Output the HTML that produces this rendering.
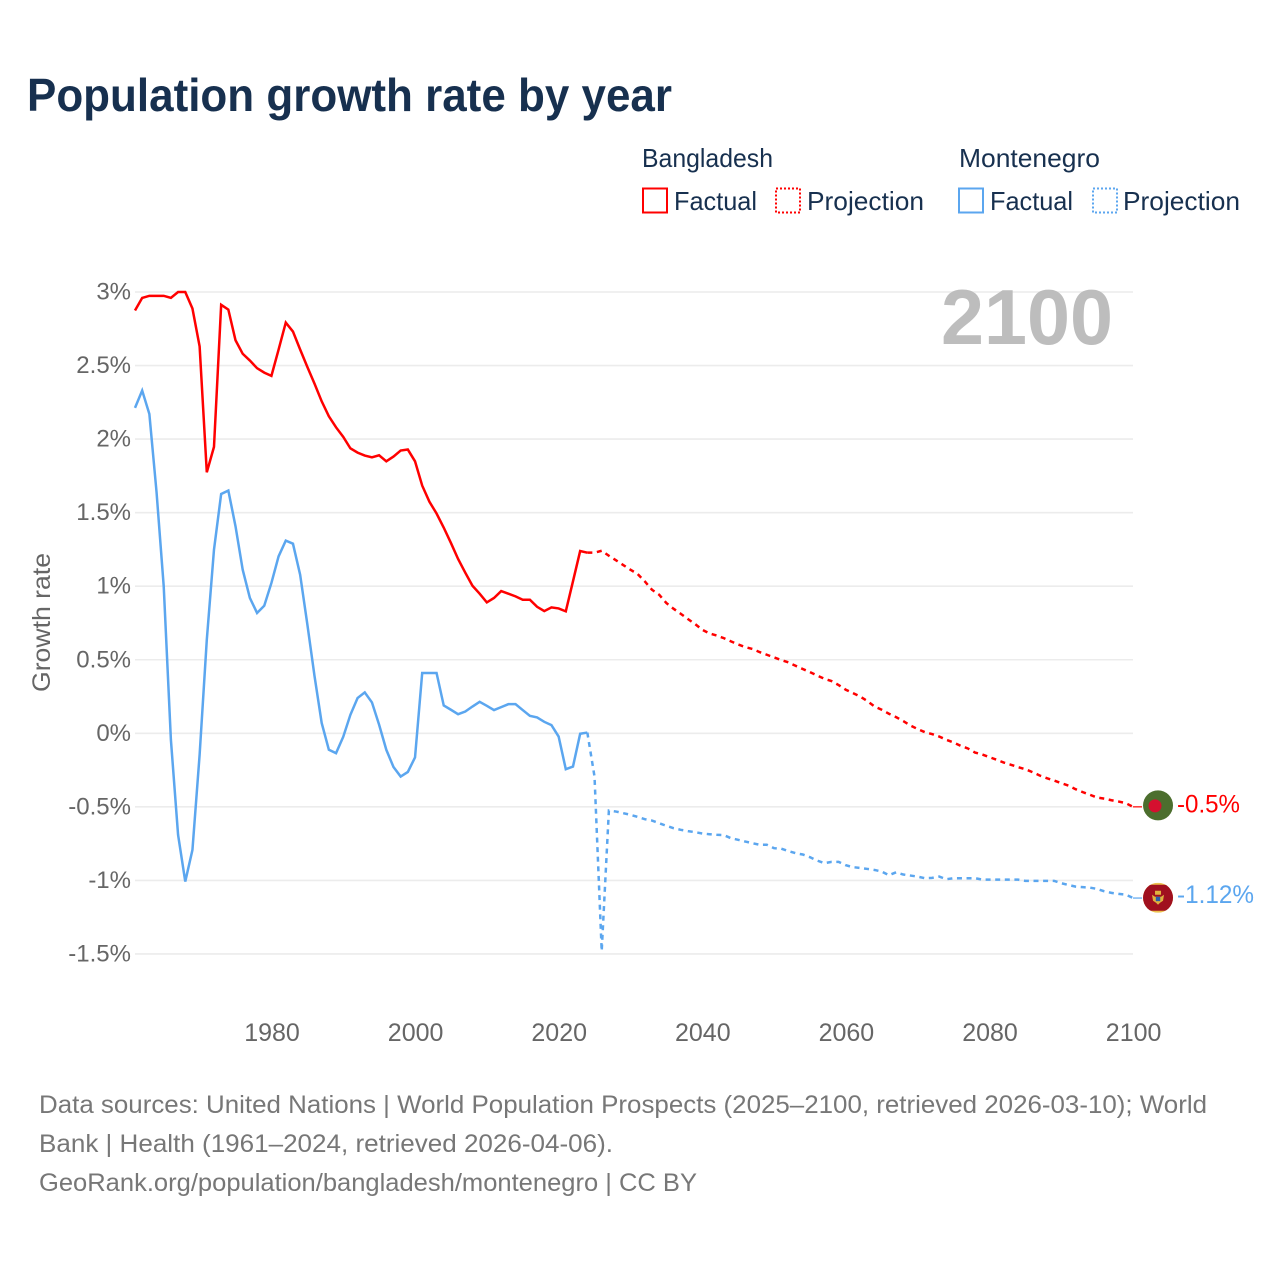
<!DOCTYPE html>
<html lang="en">
<head>
<meta charset="utf-8">
<title>Population growth rate by year</title>
<style>
  html, body { margin: 0; padding: 0; background: #ffffff; }
  svg { display: block; font-family: "Liberation Sans", sans-serif; }
</style>
</head>
<body>
<svg id="chart" width="1280" height="1280" viewBox="0 0 1280 1280" xmlns="http://www.w3.org/2000/svg">
  <rect x="0" y="0" width="1280" height="1280" fill="#ffffff"/>
  <text x="27" y="111" font-size="46" font-weight="700" fill="#17304f" textLength="645" lengthAdjust="spacingAndGlyphs">Population growth rate by year</text>

  <g font-size="26" fill="#17304f">
    <text x="642" y="167" textLength="131" lengthAdjust="spacingAndGlyphs">Bangladesh</text>
    <rect x="643" y="188.5" width="24" height="24" fill="none" stroke="#ff0000" stroke-width="2"/>
    <text x="674" y="210" textLength="83" lengthAdjust="spacingAndGlyphs">Factual</text>
    <rect x="776" y="188.5" width="24" height="24" fill="none" stroke="#ff0000" stroke-width="2" stroke-dasharray="2 2"/>
    <text x="807" y="210" textLength="117" lengthAdjust="spacingAndGlyphs">Projection</text>
    <text x="959" y="167" textLength="141" lengthAdjust="spacingAndGlyphs">Montenegro</text>
    <rect x="959" y="188.5" width="24" height="24" fill="none" stroke="#5ba6ef" stroke-width="2"/>
    <text x="990" y="210" textLength="83" lengthAdjust="spacingAndGlyphs">Factual</text>
    <rect x="1093" y="188.5" width="24" height="24" fill="none" stroke="#5ba6ef" stroke-width="2" stroke-dasharray="2 2"/>
    <text x="1123" y="210" textLength="117" lengthAdjust="spacingAndGlyphs">Projection</text>
  </g>

  <g id="grid"></g>
  <g id="y-ticks"></g>
  <g id="x-ticks"></g>

  <text transform="translate(50,622.5) rotate(-90)" text-anchor="middle" font-size="25" fill="#666666" textLength="139" lengthAdjust="spacingAndGlyphs">Growth rate</text>
  <text x="941" y="344" font-size="78" font-weight="700" fill="#bdbdbd" textLength="172" lengthAdjust="spacingAndGlyphs">2100</text>

  <g id="series"></g>
  <g id="end-markers"></g>

  <g font-size="25" fill="#777777">
    <text x="39" y="1113" textLength="1168" lengthAdjust="spacingAndGlyphs">Data sources: United Nations | World Population Prospects (2025–2100, retrieved 2026-03-10); World</text>
    <text x="39" y="1152" textLength="574" lengthAdjust="spacingAndGlyphs">Bank | Health (1961–2024, retrieved 2026-04-06).</text>
    <a><text x="39" y="1191" textLength="658" lengthAdjust="spacingAndGlyphs">GeoRank.org/population/bangladesh/montenegro | CC BY</text></a>
  </g>
</svg>

<script>
const xTickYears = [1980, 2000, 2020, 2040, 2060, 2080, 2100];
const yTickValues = [3, 2.5, 2, 1.5, 1, 0.5, 0, -0.5, -1, -1.5];
const yTickLabels = ['3%', '2.5%', '2%', '1.5%', '1%', '0.5%', '0%', '-0.5%', '-1%', '-1.5%'];

const factualStartYear = 1961;
const projectionStartYear = 2024;

const bangladeshFactual = [
  2.874, 2.96, 2.974, 2.974, 2.974, 2.96, 3.0, 3.0, 2.888, 2.63,
  1.774, 1.947, 2.913, 2.88, 2.672, 2.58, 2.534, 2.482, 2.452, 2.43,
  2.609, 2.792, 2.731, 2.609, 2.491, 2.377, 2.257, 2.155, 2.08, 2.015,
  1.937, 1.908, 1.888, 1.876, 1.89, 1.849, 1.881, 1.922, 1.929, 1.849,
  1.684, 1.575, 1.494, 1.398, 1.294, 1.185, 1.092, 1.003, 0.949, 0.89,
  0.92, 0.967, 0.949, 0.931, 0.908, 0.908, 0.86, 0.831, 0.856, 0.849,
  0.829, 1.033, 1.239, 1.228
];
const bangladeshProjection = [
  1.228, 1.228, 1.241, 1.207, 1.176, 1.144, 1.112, 1.083, 1.033, 0.976,
  0.942, 0.886, 0.847, 0.813, 0.777, 0.743, 0.704, 0.679, 0.665, 0.647,
  0.625, 0.604, 0.586, 0.573, 0.552, 0.534, 0.516, 0.498, 0.482, 0.459,
  0.437, 0.416, 0.393, 0.371, 0.355, 0.328, 0.296, 0.273, 0.25, 0.219,
  0.182, 0.16, 0.133, 0.11, 0.083, 0.053, 0.029, 0.008, -0.005, -0.022,
  -0.044, -0.062, -0.085, -0.103, -0.131, -0.144, -0.162, -0.18, -0.199, -0.214,
  -0.23, -0.244, -0.264, -0.287, -0.305, -0.321, -0.339, -0.355, -0.38, -0.4,
  -0.418, -0.437, -0.444, -0.455, -0.464, -0.475, -0.5
];
const montenegroFactual = [
  2.212, 2.33, 2.171, 1.64, 0.999, -0.044, -0.69, -1.008, -0.793, -0.146,
  0.636, 1.248, 1.627, 1.65, 1.407, 1.112, 0.92, 0.818, 0.867, 1.022,
  1.203, 1.31, 1.289, 1.078, 0.742, 0.39, 0.07, -0.112, -0.135, -0.024,
  0.126, 0.24, 0.278, 0.21, 0.058, -0.112, -0.229, -0.294, -0.263, -0.164,
  0.41, 0.41, 0.41, 0.189, 0.16, 0.13, 0.148, 0.182, 0.214, 0.187,
  0.158, 0.178, 0.198, 0.198, 0.158, 0.119, 0.108, 0.078, 0.056, -0.022,
  -0.244, -0.226, -0.003, 0.005
];
const montenegroProjection = [
  0.005, -0.294, -1.48, -0.525, -0.532, -0.543, -0.554, -0.568, -0.584, -0.593,
  -0.611, -0.629, -0.645, -0.656, -0.665, -0.672, -0.681, -0.686, -0.69, -0.692,
  -0.713, -0.724, -0.736, -0.747, -0.758, -0.758, -0.781, -0.784, -0.801, -0.815,
  -0.824, -0.842, -0.865, -0.883, -0.874, -0.874, -0.897, -0.91, -0.915, -0.922,
  -0.929, -0.94, -0.965, -0.945, -0.96, -0.967, -0.974, -0.985, -0.983, -0.974,
  -0.992, -0.985, -0.985, -0.985, -0.985, -0.995, -0.995, -0.995, -0.995, -0.995,
  -0.995, -1.003, -1.003, -1.003, -1.003, -1.003, -1.019, -1.031, -1.042, -1.046,
  -1.049, -1.058, -1.074, -1.085, -1.092, -1.097, -1.12
];
const endLabelBangladesh = '-0.5%';
const endLabelMontenegro = '-1.12%';

const NS = 'http://www.w3.org/2000/svg';
const RED = '#ff0000';
const BLUE = '#5ba6ef';

function xScale(year) { return 135 + (year - 1961) * 7.18; }
function yScale(value) { return 733.3 - value * 147.1; }

function svgEl(tag, attrs) {
  const el = document.createElementNS(NS, tag);
  for (const key in attrs) el.setAttribute(key, attrs[key]);
  return el;
}
function linePath(values, startYear) {
  return values.map(function (v, i) {
    return (i ? 'L' : 'M') + xScale(startYear + i).toFixed(2) + ' ' + yScale(v).toFixed(2);
  }).join(' ');
}

const gridGroup = document.getElementById('grid');
const yTickGroup = document.getElementById('y-ticks');
yTickValues.forEach(function (v, i) {
  const line = svgEl('line', { x1: xScale(1961), x2: xScale(2100), y1: yScale(v), y2: yScale(v), stroke: '#ececec', 'stroke-width': 1.6 });
  
  
  gridGroup.appendChild(line);
  const label = svgEl('text', { x: 131, y: yScale(v) + 7.5, 'text-anchor': 'end', 'font-size': 24, fill: '#666666' });
  
  
  label.textContent = yTickLabels[i];
  yTickGroup.appendChild(label);
});

const xTickGroup = document.getElementById('x-ticks');
xTickYears.forEach(function (year) {
  const label = svgEl('text', { x: xScale(year) + 0.6, y: 1041, 'text-anchor': 'middle', 'font-size': 25, fill: '#666666' });
  
  
  label.textContent = year;
  xTickGroup.appendChild(label);
});

const seriesGroup = document.getElementById('series');

const bdFactualLine = svgEl('path', { d: linePath(bangladeshFactual, factualStartYear), fill: 'none', stroke: RED, 'stroke-width': 2.5, 'stroke-linejoin': 'miter' });


seriesGroup.appendChild(bdFactualLine);

const bdProjectionLine = svgEl('path', { d: linePath(bangladeshProjection, projectionStartYear), fill: 'none', stroke: RED, 'stroke-width': 2.5, 'stroke-dasharray': '5 4.6' });


seriesGroup.appendChild(bdProjectionLine);

const meFactualLine = svgEl('path', { d: linePath(montenegroFactual, factualStartYear), fill: 'none', stroke: BLUE, 'stroke-width': 2.5, 'stroke-linejoin': 'miter' });


seriesGroup.appendChild(meFactualLine);

const meProjectionLine = svgEl('path', { d: linePath(montenegroProjection, projectionStartYear), fill: 'none', stroke: BLUE, 'stroke-width': 2.5, 'stroke-dasharray': '5 4.6' });


seriesGroup.appendChild(meProjectionLine);

const markerGroup = document.getElementById('end-markers');
const endX = xScale(2100);
const bdEndY = yScale(bangladeshProjection[bangladeshProjection.length - 1]);
const meEndY = yScale(montenegroProjection[montenegroProjection.length - 1]);

const bdConnector = svgEl('line', { x1: endX, x2: endX + 9, y1: bdEndY, y2: bdEndY, stroke: RED, 'stroke-width': 1.2 });


markerGroup.appendChild(bdConnector);

const meConnector = svgEl('line', { x1: endX, x2: endX + 9, y1: meEndY, y2: meEndY, stroke: BLUE, 'stroke-width': 1.2 });


markerGroup.appendChild(meConnector);

/* Bangladesh flag marker */
const bdFlag = svgEl('g', { transform: 'translate(' + (endX + 25) + ',' + (bdEndY - 1.5) + ')' });


bdFlag.appendChild(svgEl('circle', { r: 15, fill: '#4c6e2e' }));
bdFlag.appendChild(svgEl('circle', { cx: -3, cy: 0.5, r: 6.5, fill: '#d5102f' }));
markerGroup.appendChild(bdFlag);

/* Montenegro flag marker */
const meFlag = svgEl('g', { transform: 'translate(' + (endX + 25) + ',' + (meEndY - 0.3) + ')' });


const clip = svgEl('clipPath', { id: 'me-clip' });
clip.appendChild(svgEl('circle', { r: 15 }));
meFlag.appendChild(clip);
const meClipped = svgEl('g', { 'clip-path': 'url(#me-clip)' });
meClipped.appendChild(svgEl('rect', { x: -15, y: -15, width: 30, height: 30, fill: '#edc24f' }));
meClipped.appendChild(svgEl('rect', { x: -16, y: -13, width: 32, height: 26, fill: '#a0101f' }));
meFlag.appendChild(meClipped);
meFlag.appendChild(svgEl('path', { d: 'M-6 -3 L-3 -1 L3 -1 L6 -3 L5 3 L2 5 L0 7 L-2 5 L-5 3 Z', fill: '#e0b33e' }));
meFlag.appendChild(svgEl('rect', { x: -3, y: -7, width: 6, height: 4, fill: '#e0b33e' }));
meFlag.appendChild(svgEl('rect', { x: -2.2, y: -1, width: 4.4, height: 4.4, fill: '#2a5fa8' }));
markerGroup.appendChild(meFlag);

const bdEndLabel = svgEl('text', { x: 1177, y: bdEndY + 5.5, 'font-size': 25, fill: RED, textLength: 63, lengthAdjust: 'spacingAndGlyphs' });


bdEndLabel.textContent = endLabelBangladesh;
markerGroup.appendChild(bdEndLabel);

const meEndLabel = svgEl('text', { x: 1177, y: meEndY + 5, 'font-size': 25, fill: BLUE, textLength: 77, lengthAdjust: 'spacingAndGlyphs' });


meEndLabel.textContent = endLabelMontenegro;
markerGroup.appendChild(meEndLabel);
</script>
</body>
</html>
